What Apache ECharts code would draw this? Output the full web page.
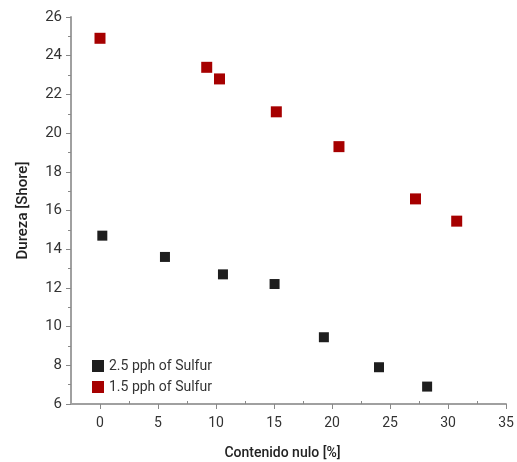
<!DOCTYPE html>
<html>
<head>
<meta charset="utf-8">
<script src="https://cdn.jsdelivr.net/npm/echarts@6/dist/echarts.min.js"></script>
<style>
  html, body { margin: 0; padding: 0; background: #fff; }
  #chart { width: 517px; height: 462px; }
</style>
</head>
<body>
<div id="chart"></div>
<script>
// data
var xSulfur25 = [0.2, 5.6, 10.6, 15.05, 19.3, 24.05, 28.2];
var ySulfur25 = [14.7, 13.6, 12.7, 12.2, 9.45, 7.9, 6.9];
var xSulfur15 = [0, 9.2, 10.3, 15.2, 20.6, 27.2, 30.75];
var ySulfur15 = [24.9, 23.4, 22.8, 21.1, 19.3, 16.6, 15.45];
var xMajorTicks = [0, 5, 10, 15, 20, 25, 30, 35];
var xMinorTicks = [2.5, 7.5, 12.5, 17.5, 22.5, 27.5, 32.5];
var seriesNames = ['2.5 pph of Sulfur', '1.5 pph of Sulfur'];

document.addEventListener("DOMContentLoaded", function () {
    var chartDom = document.getElementById('chart');
    var myChart = echarts.init(chartDom);
    var option;

    var axisGrey = '#a0a0a0';
    var font = 'Roboto, "Noto Sans", sans-serif';

    function pairs(xs, ys) {
        return xs.map(function (x, i) { return [x, ys[i]]; });
    }

    option = {
        backgroundColor: '#fff',
        textStyle: { fontFamily: font },
        grid: {
            left: 71,
            right: 11,
            top: 17,
            bottom: 58,
            outerBoundsMode: 'none'
        },
        legend: {
            orient: 'vertical',
            left: 87,
            top: 354,
            itemWidth: 12,
            itemHeight: 12,
            itemGap: 7,
            textStyle: { fontSize: 14, color: '#333', fontFamily: font },
            data: [
                { name: seriesNames[0], icon: 'rect' },
                { name: seriesNames[1], icon: 'rect' }
            ]
        },
        xAxis: [
            {
                type: 'value',
                position: 'bottom',
                min: -2.5,
                max: 35,
                name: 'Contenido nulo [%]',
                nameLocation: 'middle',
                nameGap: 42,
                nameTextStyle: { fontSize: 14, color: '#222', fontWeight: 500, padding: [0, 12, 0, 0] },
                splitLine: { show: false },
                axisLine: { onZero: false, lineStyle: { color: axisGrey, width: 2 } },
                axisTick: {
                    customValues: xMajorTicks,
                    length: 5,
                    lineStyle: { color: '#888' }
                },
                axisLabel: {
                    customValues: xMajorTicks,
                    fontSize: 14,
                    color: '#333',
                    margin: 12
                }
            },
            {
                type: 'value',
                position: 'bottom',
                min: -2.5,
                max: 35,
                splitLine: { show: false },
                axisLine: { show: false, onZero: false },
                axisLabel: { show: false },
                axisTick: {
                    customValues: xMinorTicks,
                    inside: true,
                    length: 3,
                    lineStyle: { color: '#888' }
                }
            }
        ],
        yAxis: {
            type: 'value',
            min: 6,
            max: 26,
            interval: 2,
            name: 'Dureza [Shore]',
            nameLocation: 'middle',
            nameGap: 40,
            nameTextStyle: { fontSize: 15, color: '#222', fontWeight: 500 },
            splitLine: { show: false },
            axisLine: { show: true, onZero: false, lineStyle: { color: axisGrey, width: 2 } },
            axisTick: { show: true, length: 5, lineStyle: { color: '#888' } },
            minorTick: { show: true, splitNumber: 2, length: 3, lineStyle: { color: '#888' } },
            axisLabel: { fontSize: 15, color: '#333', margin: 9 }
        },
        series: [
            {
                name: seriesNames[0],
                type: 'scatter',
                symbol: 'rect',
                symbolSize: 10,
                itemStyle: { color: '#1e1e1e', opacity: 1 },
                data: pairs(xSulfur25, ySulfur25)
            },
            {
                name: seriesNames[1],
                type: 'scatter',
                symbol: 'rect',
                symbolSize: 11,
                itemStyle: { color: '#a60000', opacity: 1 },
                data: pairs(xSulfur15, ySulfur15)
            }
        ]
    };

    option && myChart.setOption(option);
});
</script>
</body>
</html>
